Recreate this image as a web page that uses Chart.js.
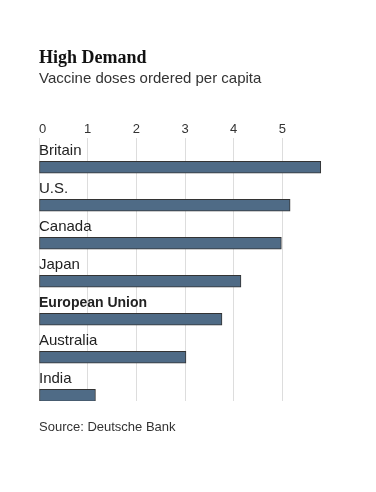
<!DOCTYPE html>
<html>
<head>
<meta charset="utf-8">
<script src="https://cdn.jsdelivr.net/npm/chart.js@4"></script>
<style>
  html, body { margin: 0; padding: 0; background: #fff; }
  #wrap { position: relative; width: 376px; height: 492px; overflow: hidden; }
  #c { position: absolute; left: 0; top: 0; }
  .t { position: absolute; left: 39px; white-space: nowrap; margin: 0; }
  #title { top: 48px; font: bold 18px/18px "Liberation Serif", serif; color: #121212; }
  #sub { top: 70px; font: 15px/15px "Liberation Sans", Arial, sans-serif; color: #333; }
  #src { top: 420px; font: 13px/13px "Liberation Sans", Arial, sans-serif; color: #333; }
</style>
</head>
<body>
<div id="wrap">
  <canvas id="c" width="376" height="492"></canvas>
  <div class="t" id="title">High Demand</div>
  <div class="t" id="sub">Vaccine doses ordered per capita</div>
  <div class="t" id="src">Source: Deutsche Bank</div>
</div>
<script>
const categories = ["Britain", "U.S.", "Canada", "Japan", "European Union", "Australia", "India"];
const dosesPerCapita = [5.79, 5.16, 4.98, 4.15, 3.76, 3.02, 1.16];
const boldCategories = ["European Union"];
const tickValues = [0, 1, 2, 3, 4, 5];

const labelPlugin = {
  id: 'barLabels',
  afterDatasetsDraw(chart) {
    const ctx = chart.ctx;
    const meta = chart.getDatasetMeta(0);
    ctx.save();
    ctx.fillStyle = '#222';
    ctx.textBaseline = 'alphabetic';
    ctx.textAlign = 'left';
    meta.data.forEach((bar, i) => {
      const name = categories[i];
      ctx.font = boldCategories.includes(name)
        ? 'bold 14px "Liberation Sans", Arial, sans-serif'
        : '15px "Liberation Sans", Arial, sans-serif';
      ctx.fillText(name, chart.chartArea.left, bar.y - 12);
    });
    ctx.restore();
  }
};

new Chart(document.getElementById('c'), {
  type: 'bar',
  data: {
    datasets: [{
      data: dosesPerCapita.map((v, i) => ({ x: v, y: i })),
      backgroundColor: '#4f6b86',
      borderColor: '#333',
      borderWidth: 1,
      borderSkipped: false,
      barThickness: 12
    }]
  },
  options: {
    indexAxis: 'y',
    responsive: false,
    animation: false,
    layout: { padding: { left: 39, right: 45, top: 122, bottom: 91 } },
    plugins: { legend: { display: false }, tooltip: { enabled: false } },
    scales: {
      x: {
        type: 'linear',
        position: 'top',
        min: 0,
        max: 6,
        afterBuildTicks: s => { s.ticks = tickValues.concat([6]).map(v => ({ value: v })); },
        ticks: {
          align: 'inner',
          padding: 0,
          color: '#333',
          font: { family: '"Liberation Sans", Arial, sans-serif', size: 13 },
          callback: v => tickValues.includes(v) ? String(v) : ''
        },
        grid: {
          drawTicks: false,
          color: c => tickValues.includes(c.tick.value) ? '#dddddd' : 'rgba(0,0,0,0)',
          lineWidth: 1
        },
        border: { display: false }
      },
      y: {
        type: 'linear',
        reverse: true,
        offset: false,
        min: -0.78,
        max: 6.15,
        display: false
      }
    }
  },
  plugins: [labelPlugin]
});
</script>
</body>
</html>
